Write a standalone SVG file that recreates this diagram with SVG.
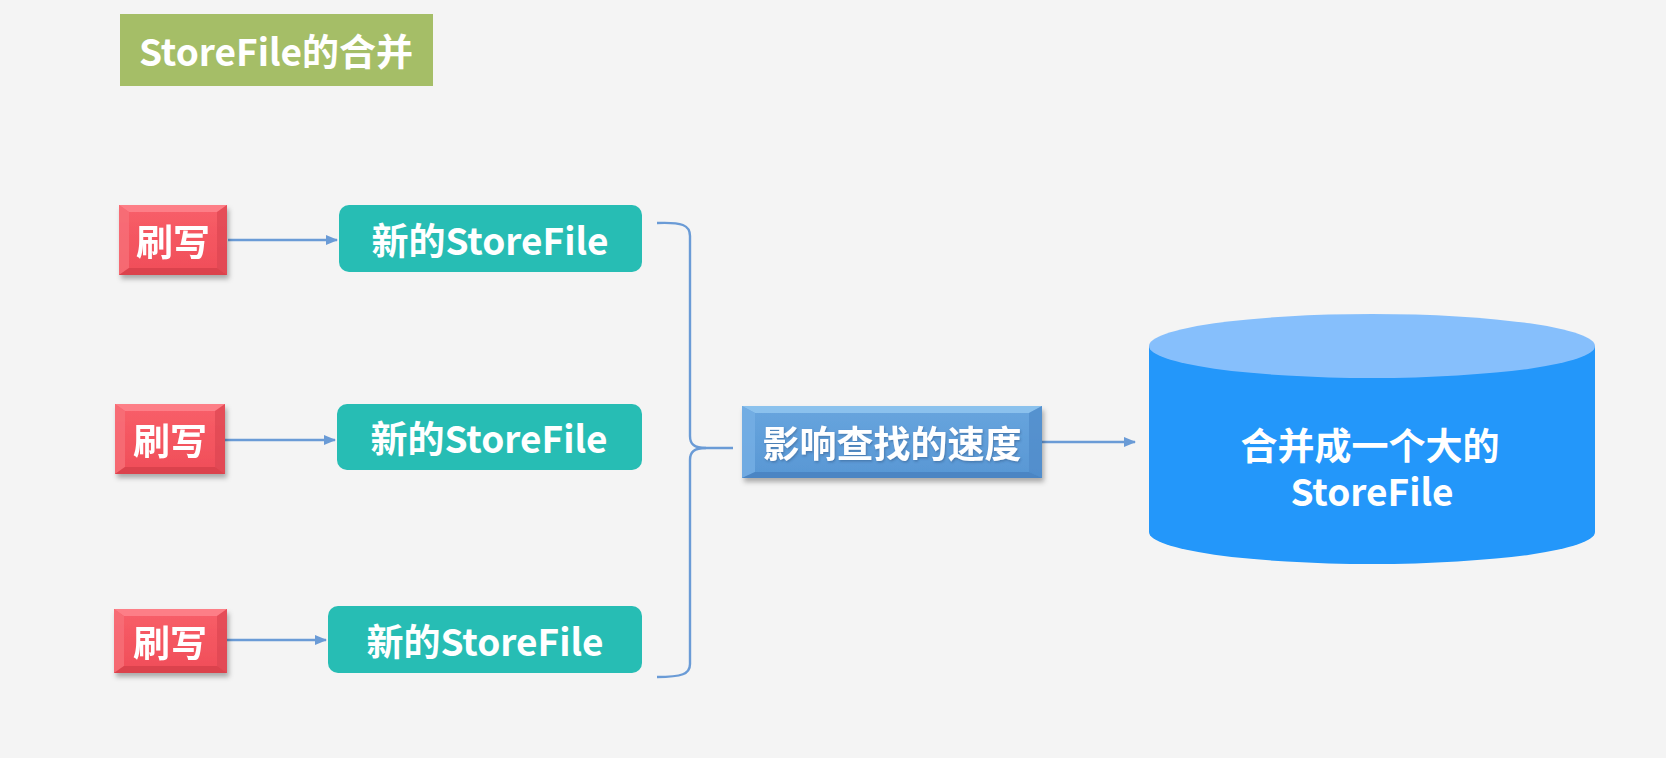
<svg xmlns="http://www.w3.org/2000/svg" width="1666" height="758" viewBox="0 0 1666 758">
<style>
.t{font-family:"Noto Sans CJK SC","Noto Sans",sans-serif;font-weight:700;fill:#ffffff;text-anchor:middle;dominant-baseline:central;font-size:37px}
.c{fill:none;stroke:#6a9bd6;stroke-width:2.4}
.teal{fill:#27bdb4}
.rt{fill:#ff8a92;opacity:0.75}
.rl{fill:#f7717a;opacity:0.75}
.rr{fill:#d94550;opacity:0.6}
.rb{fill:#cf3d47;opacity:0.65}
</style>
<defs>
<marker id="ah" markerWidth="12" markerHeight="10" refX="11" refY="5" orient="auto" markerUnits="userSpaceOnUse">
<path d="M0,0 L12,5 L0,10 Z" fill="#6a9bd6"/>
</marker>
<filter id="sh" x="-10%" y="-10%" width="125%" height="135%">
<feDropShadow dx="2" dy="4" stdDeviation="2.5" flood-color="#000" flood-opacity="0.3"/>
</filter>
<filter id="ts" x="-5%" y="-20%" width="110%" height="140%">
<feDropShadow dx="1" dy="1.5" stdDeviation="1" flood-color="#2a4f7a" flood-opacity="0.45"/>
</filter>
<linearGradient id="redg" x1="0" y1="0" x2="0" y2="1">
<stop offset="0" stop-color="#f85f69"/><stop offset="1" stop-color="#f04d58"/>
</linearGradient>
<linearGradient id="blueg" x1="0" y1="0" x2="0" y2="1">
<stop offset="0" stop-color="#68a5de"/><stop offset="1" stop-color="#5897d4"/>
</linearGradient>
</defs>
<rect width="1666" height="758" fill="#f4f4f4"/>

<g id="title">
<rect x="120" y="14" width="313" height="72" fill="#a5be67"/>
<text class="t" x="276" y="50" font-size="37">StoreFile的合并</text>
</g>

<g id="connectors">
<line class="c" x1="228" y1="240" x2="337" y2="240" marker-end="url(#ah)"/>
<line class="c" x1="225" y1="440" x2="335" y2="440" marker-end="url(#ah)"/>
<line class="c" x1="227" y1="640" x2="326" y2="640" marker-end="url(#ah)"/>
<path class="c" d="M657,223 C682,222 690,225 690,236 L690,436 C690,444 694,448 706,448 L733,448"/>
<path class="c" d="M706,448 C694,448 690,452 690,460 L690,664 C690,674 682,677 657,677"/>
<line class="c" x1="1042" y1="442" x2="1135" y2="442" marker-end="url(#ah)"/>
</g>

<g id="red1" filter="url(#sh)">
<rect x="119" y="205" width="108" height="70" fill="url(#redg)"/>
<polygon class="rt" points="119,205 227,205 217,212 129,212"/>
<polygon class="rl" points="119,205 129,212 129,268 119,275"/>
<polygon class="rr" points="227,205 217,212 217,268 227,275"/>
<polygon class="rb" points="119,275 129,268 217,268 227,275"/>
<text class="t" x="173" y="240">刷写</text>
</g>
<g id="teal1">
<rect class="teal" x="339" y="205" width="303" height="67" rx="10"/>
<text class="t" x="490" y="239">新的StoreFile</text>
</g>

<g id="red2" filter="url(#sh)">
<rect x="115" y="404" width="110" height="70" fill="url(#redg)"/>
<polygon class="rt" points="115,404 225,404 215,411 125,411"/>
<polygon class="rl" points="115,404 125,411 125,467 115,474"/>
<polygon class="rr" points="225,404 215,411 215,467 225,474"/>
<polygon class="rb" points="115,474 125,467 215,467 225,474"/>
<text class="t" x="170" y="439">刷写</text>
</g>
<g id="teal2">
<rect class="teal" x="337" y="404" width="305" height="66" rx="10"/>
<text class="t" x="489" y="437">新的StoreFile</text>
</g>

<g id="red3" filter="url(#sh)">
<rect x="114" y="609" width="113" height="64" fill="url(#redg)"/>
<polygon class="rt" points="114,609 227,609 217,616 124,616"/>
<polygon class="rl" points="114,609 124,616 124,666 114,673"/>
<polygon class="rr" points="227,609 217,616 217,666 227,673"/>
<polygon class="rb" points="114,673 124,666 217,666 227,673"/>
<text class="t" x="170" y="641">刷写</text>
</g>
<g id="teal3">
<rect class="teal" x="328" y="606" width="314" height="67" rx="10"/>
<text class="t" x="485" y="640">新的StoreFile</text>
</g>

<g id="speed">
<g filter="url(#sh)">
<rect x="742" y="406" width="300" height="72" fill="url(#blueg)"/>
<polygon points="742,406 1042,406 1029,413 755,413" fill="#92c7f0" opacity="0.85"/>
<polygon points="742,406 755,413 755,472 742,478" fill="#76afe5" opacity="0.8"/>
<polygon points="1042,406 1029,413 1029,472 1042,478" fill="#4e8ac9" opacity="0.7"/>
<polygon points="742,478 755,472 1029,472 1042,478" fill="#477fbd" opacity="0.75"/>
</g>
<text class="t" x="892" y="442" filter="url(#ts)">影响查找的速度</text>
</g>

<g id="merged">
<path d="M1149,346 L1149,532 A223,32 0 0 0 1595,532 L1595,346 Z" fill="#2397fa"/>
<ellipse cx="1372" cy="346" rx="223" ry="32" fill="#86bffc"/>
<text class="t" font-size="38" x="1371" y="444"><tspan x="1370" y="444">合并成一个大的</tspan><tspan x="1372" y="490">StoreFile</tspan></text>
</g>
</svg>
